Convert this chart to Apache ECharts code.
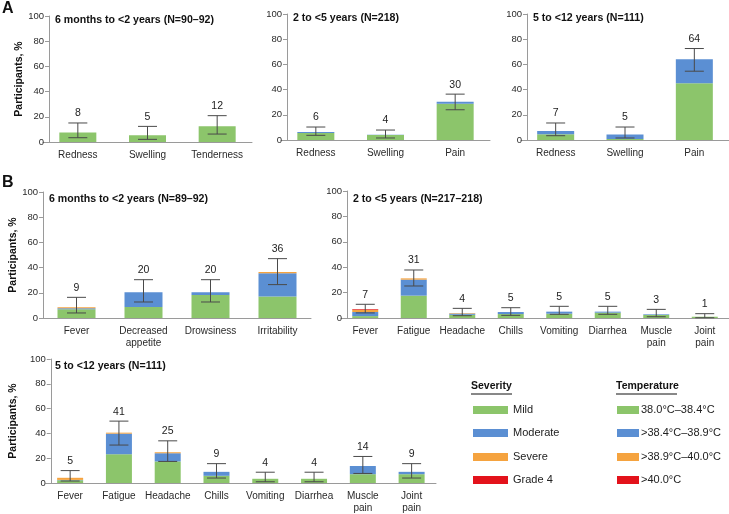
<!DOCTYPE html>
<html>
<head>
<meta charset="utf-8">
<script src="https://cdn.jsdelivr.net/npm/echarts@6/dist/echarts.min.js"></script>
<style>
  html, body { margin: 0; padding: 0; background: #fff; }
  #chart { width: 729px; height: 514px; }
</style>
</head>
<body>
<div id="chart"></div>
<script>
// categories
var catA1 = ['Redness', 'Swelling', 'Tenderness'];
var catA23 = ['Redness', 'Swelling', 'Pain'];
var catB1 = ['Fever', 'Decreased\nappetite', 'Drowsiness', 'Irritability'];
var catB23 = ['Fever', 'Fatigue', 'Headache', 'Chills', 'Vomiting', 'Diarrhea', 'Muscle\npain', 'Joint\npain'];

// A: local reactions
var a1Mild = [7.5, 5.4, 12.5];
var a1Moderate = [0, 0, 0];
var a1Label = [8, 5, 12];
var a1Low = [3.4, 2.1, 6.3];
var a1High = [15.1, 12.4, 20.9];

var a2Mild = [5.5, 4.0, 28.7];
var a2Moderate = [0.8, 0.2, 1.6];
var a2Label = [6, 4, 30];
var a2Low = [3.7, 1.6, 24.0];
var a2High = [10.3, 7.9, 36.4];

var a3Mild = [4.5, 0.8, 45.0];
var a3Moderate = [2.6, 3.5, 19.0];
var a3Label = [7, 5, 64];
var a3Low = [3.4, 1.6, 54.6];
var a3High = [13.5, 10.3, 72.6];

// B: systemic events
var b1Mild = [7.0, 8.7, 18.2, 17.0];
var b1Moderate = [0.7, 11.7, 2.2, 18.5];
var b1Severe = [0.8, 0, 0, 1.0];
var b1Grade4 = [0, 0, 0, 0];
var b1Label = [9, 20, 20, 36];
var b1Low = [4.0, 12.7, 12.7, 26.5];
var b1High = [16.4, 30.4, 30.4, 47.1];

var b2Mild = [1.5, 17.6, 2.5, 3.1, 3.4, 4.2, 2.4, 1.0];
var b2Moderate = [3.2, 12.6, 1.0, 1.6, 1.6, 0.8, 0.5, 0];
var b2Severe = [1.8, 1.0, 0.4, 0, 0, 0, 0, 0];
var b2Grade4 = [0.5, 0, 0, 0, 0, 0, 0, 0];
var b2Label = [7, 31, 4, 5, 5, 5, 3, 1];
var b2Low = [4.0, 25.2, 1.8, 2.1, 2.9, 2.9, 1.0, 0.2];
var b2High = [10.8, 37.8, 7.6, 8.1, 9.2, 9.2, 6.8, 3.4];

var b3Mild = [2.2, 23.2, 17.4, 5.8, 3.4, 3.4, 7.1, 7.1];
var b3Moderate = [0.3, 16.6, 6.6, 3.2, 0, 0, 6.6, 1.9];
var b3Severe = [1.7, 0.8, 0.8, 0, 0, 0, 0, 0];
var b3Grade4 = [0, 0, 0, 0, 0, 0, 0, 0];
var b3Label = [5, 41, 25, 9, 4, 4, 14, 9];
var b3Low = [1.6, 30.6, 17.4, 4.0, 1.0, 1.0, 7.7, 4.0];
var b3High = [10.0, 49.9, 34.0, 15.6, 8.7, 8.7, 21.4, 15.6];

var severityNames = ['Mild', 'Moderate', 'Severe', 'Grade 4'];
var temperatureNames = ['38.0\u00B0C\u201338.4\u00B0C', '>38.4\u00B0C\u201338.9\u00B0C', '>38.9\u00B0C\u201340.0\u00B0C', '>40.0\u00B0C'];

var colors = ['#8cc56b', '#5b8fd3', '#f5a33f', '#e3121b'];
var font = 'Liberation Sans, Arial, sans-serif';

// axisX = where the y axis sits, shift = how far the category band starts left of it
var panels = [
    { title: '6 months to <2 years (N=90\u201392)', cats: catA1, stacks: [a1Mild, a1Moderate], label: a1Label, low: a1Low, high: a1High,
      axisX: 49, shift: 6, top: 16, width: 209, height: 126, barWidth: 37, yName: true, titleTop: 15 },
    { title: '2 to <5 years (N=218)', cats: catA23, stacks: [a2Mild, a2Moderate], label: a2Label, low: a2Low, high: a2High,
      axisX: 287, shift: 6, top: 14, width: 209, height: 126, barWidth: 37, yName: false, titleTop: 13 },
    { title: '5 to <12 years (N=111)', cats: catA23, stacks: [a3Mild, a3Moderate], label: a3Label, low: a3Low, high: a3High,
      axisX: 527, shift: 6, top: 14, width: 209, height: 126, barWidth: 37, yName: false, titleTop: 13 },
    { title: '6 months to <2 years (N=89\u201392)', cats: catB1, stacks: [b1Mild, b1Moderate, b1Severe, b1Grade4], label: b1Label, low: b1Low, high: b1High,
      axisX: 43, shift: 0, top: 192, width: 268, height: 126, barWidth: 38, yName: true, titleTop: 194 },
    { title: '2 to <5 years (N=217\u2013218)', cats: catB23, stacks: [b2Mild, b2Moderate, b2Severe, b2Grade4], label: b2Label, low: b2Low, high: b2High,
      axisX: 347, shift: 6, top: 191, width: 392, height: 127, barWidth: 26, yName: false, titleTop: 194 },
    { title: '5 to <12 years (N=111)', cats: catB23, stacks: [b3Mild, b3Moderate, b3Severe, b3Grade4], label: b3Label, low: b3Low, high: b3High,
      axisX: 49, shift: 5, top: 359, width: 392, height: 126, barWidth: 26, yName: true, titleTop: 361 }
];

var grids = [], xAxes = [], yAxes = [], series = [], titles = [];

titles.push({ text: 'A', left: 2, top: 1, padding: 0, textStyle: { fontFamily: font, fontSize: 16, fontWeight: 'bold', color: '#111' } });
titles.push({ text: 'B', left: 2, top: 175, padding: 0, textStyle: { fontFamily: font, fontSize: 16, fontWeight: 'bold', color: '#111' } });

panels.forEach(function (p, k) {
    grids.push({ left: p.axisX - p.shift, top: p.top, width: p.width, height: p.height });
    titles.push({
        text: p.title,
        left: p.axisX + 6,
        top: p.titleTop,
        padding: 0,
        textStyle: { fontFamily: font, fontSize: 10.6, fontWeight: 'bold', color: '#111' }
    });
    xAxes.push({
        type: 'category',
        gridIndex: k,
        data: p.cats,
        axisLine: { lineStyle: { color: '#9a9a9a', width: 1 } },
        axisTick: { show: false },
        axisLabel: { color: '#2a2a2a', fontFamily: font, fontSize: 10, margin: 7, lineHeight: 12, interval: 0 }
    });
    yAxes.push({
        type: 'value',
        gridIndex: k,
        offset: -p.shift,
        min: 0,
        max: 100,
        interval: 20,
        name: p.yName ? 'Participants, %' : '',
        nameLocation: 'middle',
        nameRotate: 90,
        nameGap: 24,
        nameTextStyle: { fontFamily: font, fontSize: 10.5, fontWeight: 'bold', color: '#111' },
        axisLine: { show: true, lineStyle: { color: '#9a9a9a', width: 1 } },
        axisTick: { show: true, length: 4, lineStyle: { color: '#9a9a9a' } },
        axisLabel: { color: '#2a2a2a', fontFamily: font, fontSize: 9.5, margin: 5 },
        splitLine: { show: false }
    });
    p.stacks.forEach(function (vals, s) {
        series.push({
            type: 'bar',
            name: severityNames[s],
            xAxisIndex: k,
            yAxisIndex: k,
            stack: 'p' + k,
            barWidth: p.barWidth,
            itemStyle: { color: colors[s] },
            data: vals
        });
    });
    var errData = p.cats.map(function (c, i) {
        return [i, p.low[i], p.high[i], p.label[i]];
    });
    series.push({
        type: 'custom',
        xAxisIndex: k,
        yAxisIndex: k,
        z: 10,
        data: errData,
        encode: { x: 0, y: [1, 2] },
        renderItem: function (params, api) {
            var lo = api.coord([api.value(0), api.value(1)]);
            var hi = api.coord([api.value(0), api.value(2)]);
            var cap = 9.5;
            var st = { stroke: '#4a4a4a', lineWidth: 1 };
            return {
                type: 'group',
                children: [
                    { type: 'line', shape: { x1: lo[0], y1: lo[1], x2: hi[0], y2: hi[1] }, style: st },
                    { type: 'line', shape: { x1: hi[0] - cap, y1: hi[1], x2: hi[0] + cap, y2: hi[1] }, style: st },
                    { type: 'line', shape: { x1: lo[0] - cap, y1: lo[1], x2: lo[0] + cap, y2: lo[1] }, style: st },
                    { type: 'text', style: { x: hi[0], y: hi[1] - 4, text: String(api.value(3)), textAlign: 'center', textVerticalAlign: 'bottom',
                        fill: '#222', font: '10.5px ' + font } }
                ]
            };
        }
    });
});

// legend drawn as graphics
var graphics = [];
function legendHeader(x, text, w) {
    graphics.push({ type: 'text', left: x, top: 381, style: { text: text, font: 'bold 10.5px ' + font, fill: '#111' } });
    graphics.push({ type: 'line', shape: { x1: x, y1: 394, x2: x + w, y2: 394 }, style: { stroke: '#111', lineWidth: 1 } });
}
legendHeader(471, 'Severity', 41);
legendHeader(616, 'Temperature', 61);
var rowY = [410, 433, 457, 480];
severityNames.forEach(function (n, i) {
    graphics.push({ type: 'rect', shape: { x: 473, y: rowY[i] - 4, width: 35, height: 8 }, style: { fill: colors[i] } });
    graphics.push({ type: 'text', left: 513, top: rowY[i] - 6, style: { text: n, font: '11px ' + font, fill: '#222' } });
});
temperatureNames.forEach(function (n, i) {
    graphics.push({ type: 'rect', shape: { x: 617, y: rowY[i] - 4, width: 22, height: 8 }, style: { fill: colors[i] } });
    graphics.push({ type: 'text', left: 641, top: rowY[i] - 6, style: { text: n, font: '11px ' + font, fill: '#222' } });
});

var myChart = echarts.init(document.getElementById('chart'));
myChart.setOption({
    animation: false,
    title: titles,
    grid: grids,
    xAxis: xAxes,
    yAxis: yAxes,
    series: series,
    graphic: graphics
});
</script>
</body>
</html>
